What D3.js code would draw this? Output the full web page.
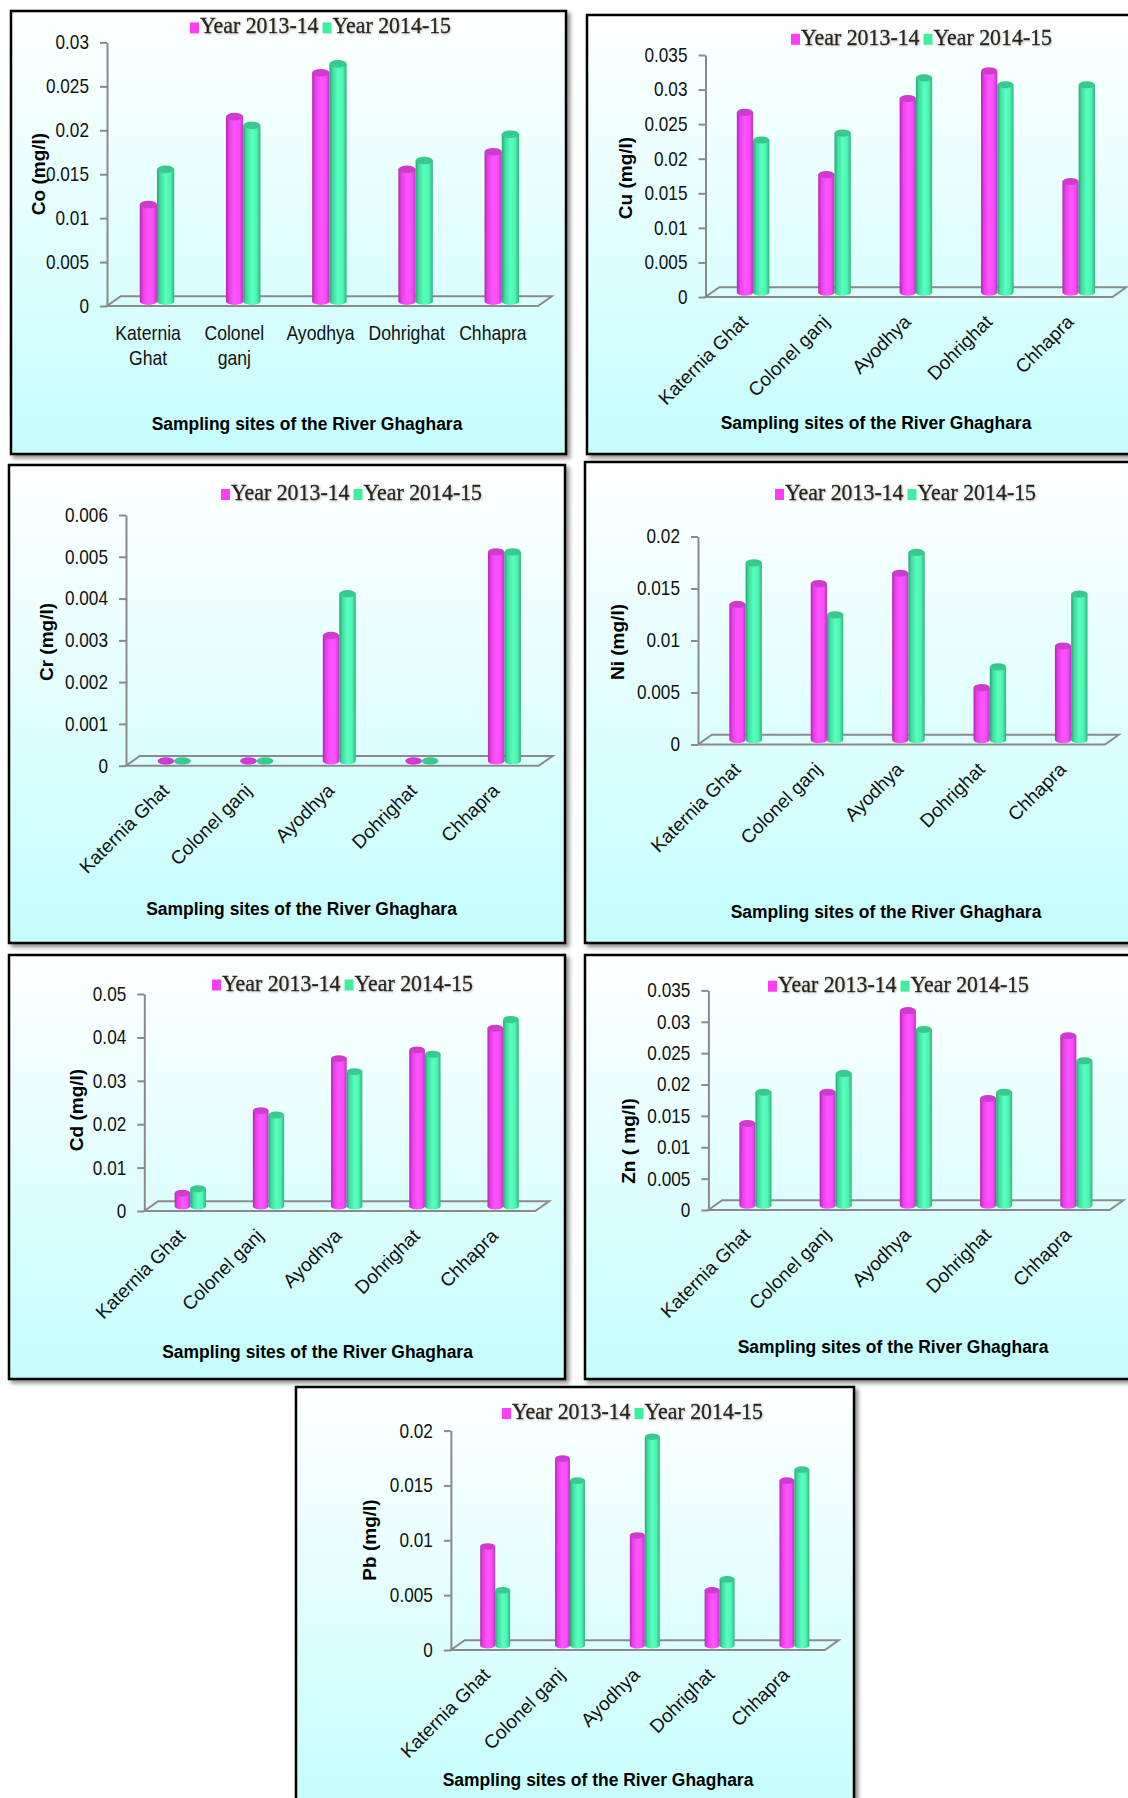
<!DOCTYPE html>
<html>
<head>
<meta charset="utf-8">
<script src="https://cdn.jsdelivr.net/npm/d3@7"></script>
<style>
  body { margin: 0; background: #fff; }
  svg { display: block; }
</style>
</head>
<body>
<svg width="1128" height="1798"></svg>
<script>
// ---- data (mg/l) ----
const sites = ["Katernia Ghat", "Colonel ganj", "Ayodhya", "Dohrighat", "Chhapra"];
const years = ["Year 2013-14", "Year 2014-15"];

const co1314 = [0.011, 0.021, 0.026, 0.015, 0.017];
const co1415 = [0.015, 0.020, 0.027, 0.016, 0.019];
const cu1314 = [0.026, 0.017, 0.028, 0.032, 0.016];
const cu1415 = [0.022, 0.023, 0.031, 0.030, 0.030];
const cr1314 = [0, 0, 0.003, 0, 0.005];
const cr1415 = [0, 0, 0.004, 0, 0.005];
const ni1314 = [0.013, 0.015, 0.016, 0.005, 0.009];
const ni1415 = [0.017, 0.012, 0.018, 0.007, 0.014];
const cd1314 = [0.003, 0.022, 0.034, 0.036, 0.041];
const cd1415 = [0.004, 0.021, 0.031, 0.035, 0.043];
const zn1314 = [0.013, 0.018, 0.031, 0.017, 0.027];
const zn1415 = [0.018, 0.021, 0.028, 0.018, 0.023];
const pb1314 = [0.009, 0.017, 0.010, 0.005, 0.015];
const pb1415 = [0.005, 0.015, 0.019, 0.006, 0.016];

const coTicks = [0, 0.005, 0.01, 0.015, 0.02, 0.025, 0.03];
const cuTicks = [0, 0.005, 0.01, 0.015, 0.02, 0.025, 0.03, 0.035];
const crTicks = [0, 0.001, 0.002, 0.003, 0.004, 0.005, 0.006];
const niTicks = [0, 0.005, 0.01, 0.015, 0.02];
const cdTicks = [0, 0.01, 0.02, 0.03, 0.04, 0.05];
const znTicks = [0, 0.005, 0.01, 0.015, 0.02, 0.025, 0.03, 0.035];
const pbTicks = [0, 0.005, 0.01, 0.015, 0.02];

const xTitle = "Sampling sites of the River Ghaghara";

// ---- layout of the seven panels ----
const panels = [
  {a: co1314, b: co1415, ticks: coTicks, title: "Co (mg/l)", box: [11, 11, 555, 443], ax: 107, top: 42.4, y0: 306, right: 538, tx: 38, ty: 174, xt: [307, 423], lg: [190, 26.4], wrap: true},
  {a: cu1314, b: cu1415, ticks: cuTicks, title: "Cu (mg/l)", box: [587, 15, 560, 439], ax: 705.5, top: 55, y0: 297, right: 1112.5, tx: 625, ty: 178, xt: [876, 422], lg: [791, 37.8]},
  {a: cr1314, b: cr1415, ticks: crTicks, title: "Cr (mg/l)", box: [9, 465, 556, 478], ax: 126, top: 515, y0: 765.7, right: 538.8, tx: 46, ty: 642, xt: [301.5, 908], lg: [221, 493]},
  {a: ni1314, b: ni1415, ticks: niTicks, title: "Ni (mg/l)", box: [585, 462, 560, 481], ax: 698, top: 536.5, y0: 744.5, right: 1105, tx: 617, ty: 642, xt: [886, 911], lg: [775, 493]},
  {a: cd1314, b: cd1415, ticks: cdTicks, title: "Cd (mg/l)", box: [9, 955, 556, 424], ax: 144.3, top: 994, y0: 1211, right: 535.3, tx: 76, ty: 1110, xt: [317.5, 1351.5], lg: [212, 983.5]},
  {a: zn1314, b: zn1415, ticks: znTicks, title: "Zn ( mg/l)", box: [585, 955, 560, 424], ax: 708.4, top: 990.4, y0: 1210, right: 1109.6, tx: 628, ty: 1141, xt: [893, 1346], lg: [768, 984.7]},
  {a: pb1314, b: pb1415, ticks: pbTicks, title: "Pb (mg/l)", box: [296, 1387, 558, 430], ax: 450.9, top: 1430.6, y0: 1650, right: 824.9, tx: 369, ty: 1540, xt: [598, 1779], lg: [502, 1412]}
];

const SANS = "'Liberation Sans', Arial, sans-serif";
const SERIF = "'Liberation Serif', 'Times New Roman', serif";
const DX = 13.8, DY = -9.7;          // depth of the 3d floor
const AXIS_GREY = "#8a8a8a";
const legendFill = ["#ff3cf5", "#3cf0a0"];
const capFill = ["#cf3bcf", "#38c98e"];
const fmt = d => d === 0 ? "0" : d3.format(".3~f")(d);

const svg = d3.select("svg");
const defs = svg.append("defs");

const bg = defs.append("linearGradient").attr("id", "bg")
  .attr("x1", 0).attr("y1", 0).attr("x2", 0).attr("y2", 1);
bg.append("stop").attr("offset", "0%").attr("stop-color", "#ffffff");
bg.append("stop").attr("offset", "100%").attr("stop-color", "#c4fdfd");

defs.append("filter").attr("id", "shadow")
  .attr("x", "-5%").attr("y", "-5%").attr("width", "115%").attr("height", "115%")
  .append("feDropShadow")
  .attr("dx", 3).attr("dy", 3).attr("stdDeviation", 2)
  .attr("flood-color", "#000").attr("flood-opacity", 0.45);

// soft halo behind the legend words
defs.append("filter").attr("id", "glow")
  .attr("x", "-10%").attr("y", "-30%").attr("width", "120%").attr("height", "160%")
  .append("feDropShadow")
  .attr("dx", 1).attr("dy", 1).attr("stdDeviation", 1.2)
  .attr("flood-color", "#8a8a8a").attr("flood-opacity", 0.55);

function cylGrad(id, stops) {
  const g = defs.append("linearGradient").attr("id", id)
    .attr("x1", 0).attr("x2", 1).attr("y1", 0).attr("y2", 0);
  stops.forEach(([o, c]) => g.append("stop").attr("offset", o).attr("stop-color", c));
}
cylGrad("g0", [["0%", "#ad28ad"], ["18%", "#e63ee6"], ["50%", "#ff55ff"], ["78%", "#fa4cfa"], ["100%", "#c232c2"]]);
cylGrad("g1", [["0%", "#28a274"], ["18%", "#40dc9e"], ["50%", "#58ffbf"], ["78%", "#4cf4b0"], ["100%", "#30b380"]]);

function cylinder(g, cx, w, yTop, yBase, si) {
  const rx = w / 2, ry = w * 0.22;
  const xl = cx - rx, xr = cx + rx;
  g.append("path")
    .attr("d", `M${xl},${yTop}L${xl},${yBase}A${rx},${ry} 0 0 0 ${xr},${yBase}L${xr},${yTop}Z`)
    .attr("fill", `url(#g${si})`);
  g.append("ellipse")
    .attr("cx", cx).attr("cy", yTop).attr("rx", rx).attr("ry", ry)
    .attr("fill", capFill[si]);
}

function drawPanel(p) {
  const g = svg.append("g");

  g.append("rect")
    .attr("x", p.box[0]).attr("y", p.box[1])
    .attr("width", p.box[2]).attr("height", p.box[3])
    .attr("fill", "url(#bg)")
    .attr("stroke", "#000").attr("stroke-width", 2.5)
    .attr("filter", "url(#shadow)");

  const y = d3.scaleLinear().domain([0, d3.max(p.ticks)]).range([p.y0, p.top]);
  const x = d3.scaleBand().domain(sites).range([p.ax, p.right]);
  const xs = d3.scaleBand().domain(years).range([0, x.bandwidth()]).paddingOuter(1.5);

  // floor
  g.append("path")
    .attr("d", d3.line()([[p.ax, p.y0], [p.right, p.y0], [p.right + DX, p.y0 + DY], [p.ax + DX, p.y0 + DY]]) + "Z")
    .attr("fill", "none").attr("stroke", AXIS_GREY).attr("stroke-width", 2);

  // value axis
  const axis = g.append("g")
    .attr("transform", `translate(${p.ax},0)`)
    .call(d3.axisLeft(y).tickValues(p.ticks).tickFormat(fmt).tickSize(7).tickSizeOuter(0));
  axis.select(".domain").attr("stroke", AXIS_GREY).attr("stroke-width", 2);
  axis.selectAll(".tick line").attr("stroke", AXIS_GREY).attr("stroke-width", 2);
  axis.selectAll(".tick text")
    .attr("x", -21)
    .attr("transform", "scale(0.86,1)")
    .attr("font-family", SANS).attr("font-size", 20).attr("fill", "#111");

  // cylinders
  sites.forEach((s, i) => {
    [p.a, p.b].forEach((vals, si) => {
      const cx = x(s) + xs(years[si]) + xs.bandwidth() / 2 + DX / 2;
      cylinder(g, cx, xs.bandwidth(), y(vals[i]) + DY / 2, p.y0 + DY / 2, si);
    });
  });

  // category labels
  sites.forEach(s => {
    const cx = x(s) + x.bandwidth() / 2;
    if (p.wrap) {
      s.split(" ").forEach((w, k) => {
        g.append("text")
          .attr("transform", `translate(${cx - 2},${p.y0 + 34 + k * 25}) scale(0.88,1)`)
          .attr("text-anchor", "middle")
          .attr("font-family", SANS).attr("font-size", 20).attr("fill", "#111")
          .text(w);
      });
    } else {
      g.append("text")
        .attr("transform", `translate(${cx + 3},${p.y0 + 26}) rotate(-45)`)
        .attr("text-anchor", "end")
        .attr("font-family", SANS).attr("font-size", 19).attr("fill", "#111")
        .text(s);
    }
  });

  // axis titles
  g.append("text")
    .attr("transform", `translate(${p.tx},${p.ty}) rotate(-90)`)
    .attr("text-anchor", "middle").attr("dy", "0.35em")
    .attr("font-family", SANS).attr("font-size", 19).attr("font-weight", "bold")
    .text(p.title);

  g.append("text")
    .attr("transform", `translate(${p.xt[0]},${p.xt[1]}) scale(0.92,1)`)
    .attr("text-anchor", "middle").attr("dy", "0.35em")
    .attr("font-family", SANS).attr("font-size", 19).attr("font-weight", "bold")
    .text(xTitle);

  // legend
  let lx = p.lg[0];
  const base = p.lg[1] + 7;
  years.forEach((yr, si) => {
    g.append("rect")
      .attr("x", lx).attr("y", base - 11).attr("width", 9).attr("height", 11)
      .attr("fill", legendFill[si]);
    const t = g.append("text")
      .attr("transform", `translate(${lx + 10},${base}) scale(0.95,1)`)
      .attr("font-family", SERIF).attr("font-size", 23).attr("fill", "#2a2418")
      .attr("stroke", "#2a2418").attr("stroke-width", 0.35)
      .attr("filter", "url(#glow)")
      .text(yr);
    lx += 10 + t.node().getComputedTextLength() * 0.95 + 4;
  });
}

panels.forEach(drawPanel);
</script>
</body>
</html>
